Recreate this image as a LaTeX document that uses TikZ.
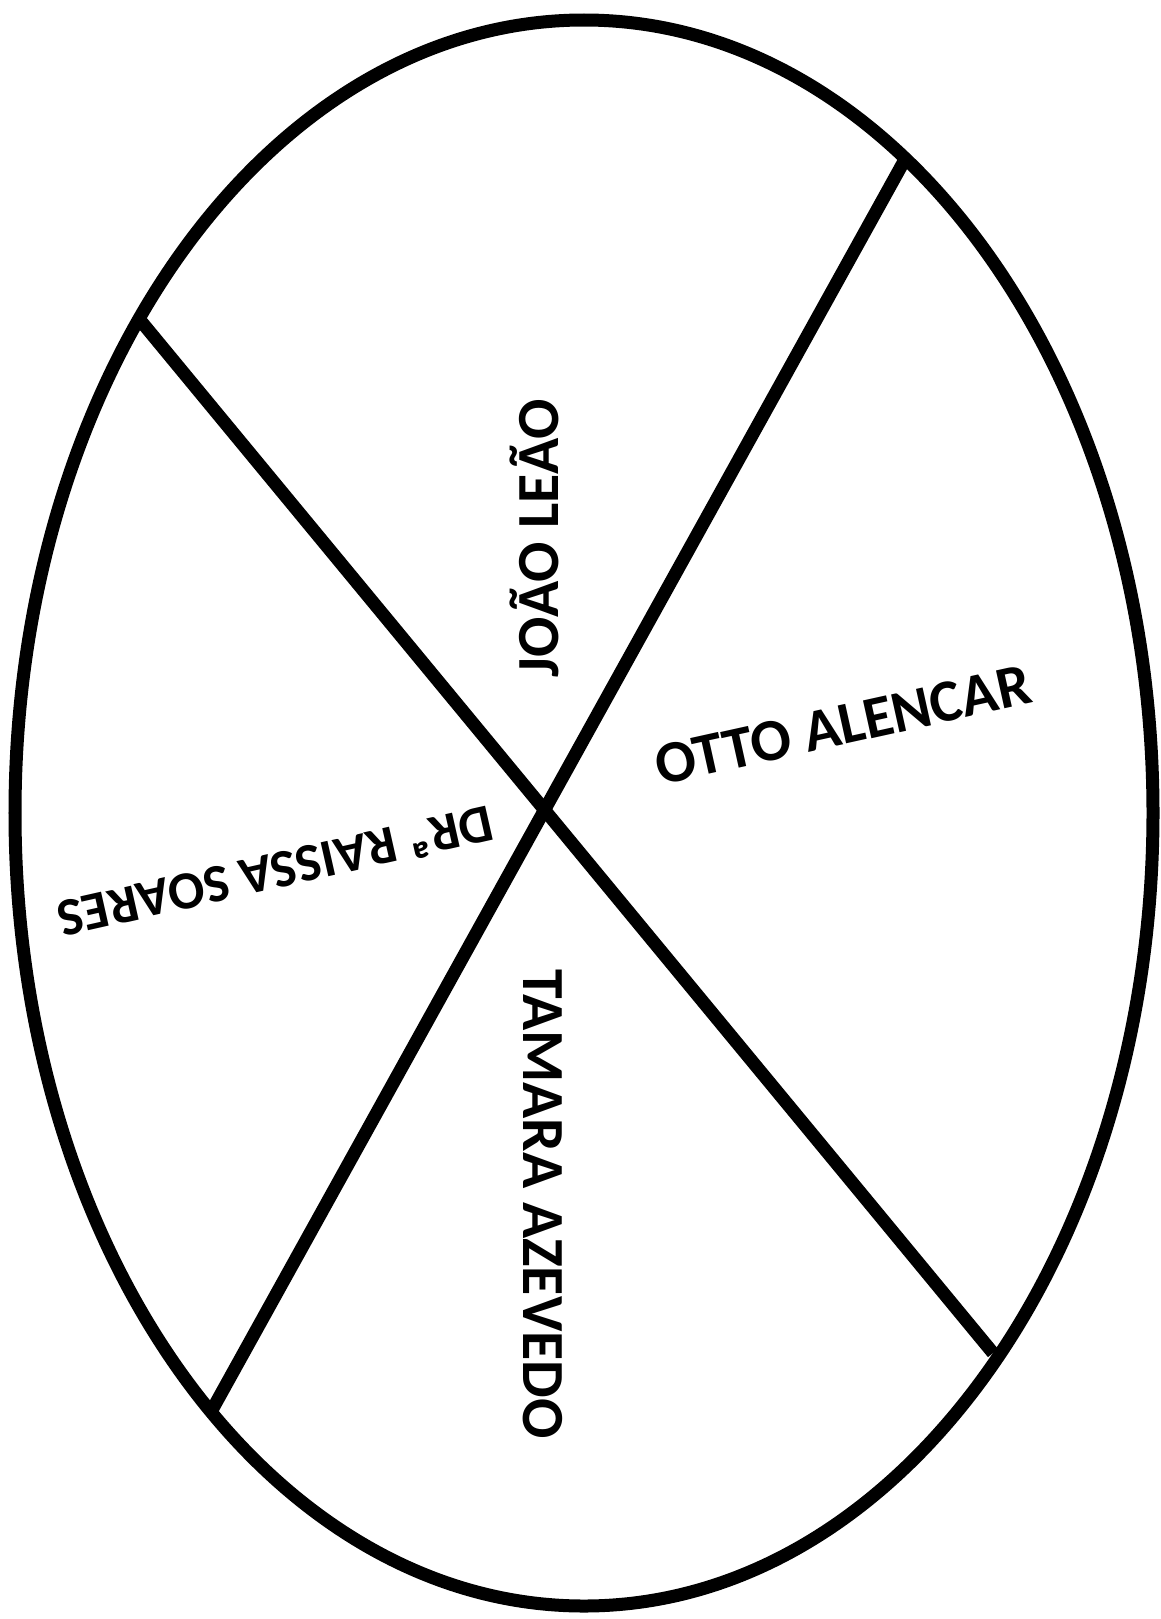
\documentclass[tikz,border=0pt]{standalone}
\usepackage{fontspec}
\setmainfont{Carlito}
\usepackage{tikz}
\usetikzlibrary{positioning}
\definecolor{ink}   {HTML}{000000}
\definecolor{paper} {HTML}{FFFFFF}

\tikzset{
  rim/.style={draw=ink,line width=7.4pt},
  slice/.style={font=\bfseries\fontsize{34}{40}\selectfont,text=ink,inner sep=0pt}
}

\begin{document}
\begin{tikzpicture}[x=0.02cm,y=-0.02cm]
  \fill[paper] (0,0) rectangle (1160,1619);
  \useasboundingbox (0,0) rectangle (1160,1619);
  % outer ring
  \draw[rim] (584,813) ellipse [x radius=569, y radius=793];
  % end points of the two cuts
  \coordinate (nw) at (140,320);
  \coordinate (se) at (993,1353);
  \coordinate (ne) at (903,163);
  \coordinate (sw) at (212,1410);
  \draw[rim] (nw) -- (se);
  \draw[rim] (ne) -- (sw);
  % names in the four parts
  \node[slice,rotate=90]    (joao)   at (534,538)  {JOÃO LEÃO};
  \node[slice,rotate=12.5]  (otto)   at (843,725)  {OTTO ALENCAR};
  \node[slice,rotate=192.7,font=\bfseries\fontsize{30.5}{36}\selectfont]
                            (raissa) at (276,872)  {DRª RAISSA SOARES};
  \node[slice,rotate=-90]   (tamara) at (543,1204) {TAMARA AZEVEDO};
\end{tikzpicture}
\end{document}
